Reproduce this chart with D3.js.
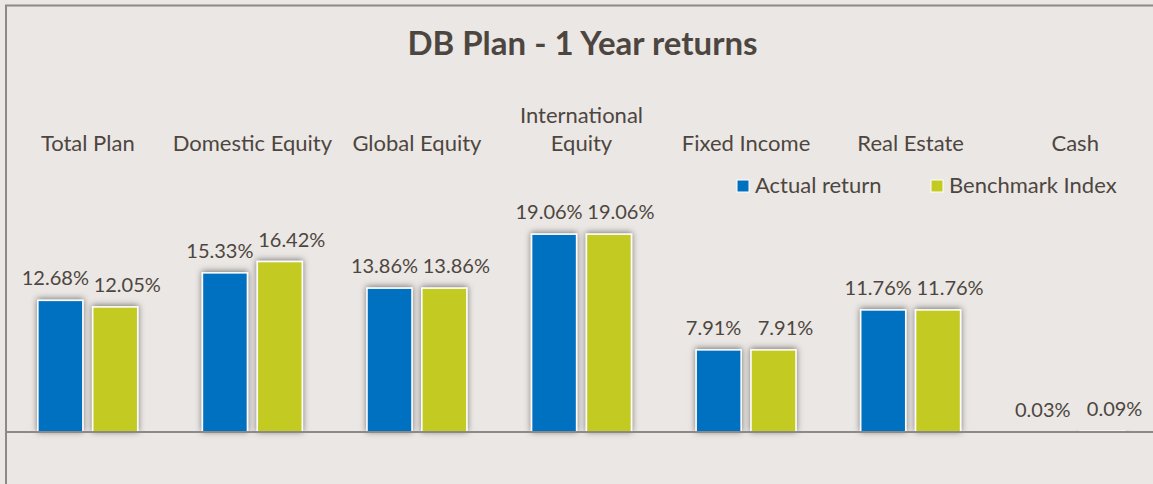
<!DOCTYPE html>
<html>
<head>
<meta charset="utf-8">
<script src="https://cdn.jsdelivr.net/npm/d3@7"></script>
<style>
  body { margin: 0; background: #ebe7e4; }
  svg { display: block; font-family: Lato, "Open Sans", sans-serif; }
</style>
</head>
<body>
<div id="chart"></div>
<script>
// data
const categories = ["Total Plan", "Domestic Equity", "Global Equity", "International Equity", "Fixed Income", "Real Estate", "Cash"];
const seriesNames = ["Actual return", "Benchmark Index"];
const actualReturn = [12.68, 15.33, 13.86, 19.06, 7.91, 11.76, 0.03];
const benchmarkIndex = [12.05, 16.42, 13.86, 19.06, 7.91, 11.76, 0.09];

const width = 1153;
const height = 484;
const colors = ["#0070c0", "#c3cb20"];
const textColor = "#4d4640";
const baseY = 432;

const rows = categories.map((c, i) => ({
    cat: c,
    values: [actualReturn[i], benchmarkIndex[i]]
}));

const svg = d3.select("#chart").append("svg")
    .attr("width", width)
    .attr("height", height);

const defs = svg.append("defs");
const shadow = defs.append("filter")
    .attr("id", "shadow")
    .attr("x", "-40%").attr("y", "-40%")
    .attr("width", "180%").attr("height", "180%");
shadow.append("feDropShadow")
    .attr("dx", 0).attr("dy", -1)
    .attr("stdDeviation", 3)
    .attr("flood-color", "#000")
    .attr("flood-opacity", 0.5);

// frame (top + left edges only visible)
svg.append("rect")
    .attr("width", width).attr("height", height)
    .attr("fill", "#ebe7e4");
svg.append("path")
    .attr("d", `M6,${height} V5.5 H${width}`)
    .attr("fill", "none")
    .attr("stroke", "#8c8a88")
    .attr("stroke-width", 2);

const x0 = d3.scaleBand()
    .domain(categories)
    .range([5.5, 1157.5])
    .padding(0);

const x1 = d3.scaleBand()
    .domain(d3.range(seriesNames.length))
    .range([0, x0.bandwidth()])
    .paddingInner(0.18)
    .paddingOuter(0.59);

// 10.38 px per percent
const y = d3.scaleLinear()
    .domain([0, 20])
    .range([baseY, baseY - 207.6]);

svg.append("text")
    .attr("x", 582.5)
    .attr("y", 55)
    .attr("text-anchor", "middle")
    .attr("font-size", 33)
    .attr("font-weight", "bold")
    .attr("fill", textColor)
    .text("DB Plan - 1 Year returns");

// category labels on top
const catLabel = svg.append("g")
    .selectAll("text")
    .data(categories)
    .enter().append("text")
    .attr("text-anchor", "middle")
    .attr("font-size", 22)
    .attr("fill", textColor)
    .attr("x", d => x0(d) + x0.bandwidth() / 2)
    .attr("y", 151);

catLabel.each(function(d) {
    const t = d3.select(this);
    if (d === "International Equity") {
        t.append("tspan").attr("x", t.attr("x")).attr("dy", -28).text("International");
        t.append("tspan").attr("x", t.attr("x")).attr("dy", 28).text("Equity");
    } else {
        t.text(d);
    }
});

const group = svg.append("g")
    .selectAll("g")
    .data(rows)
    .enter().append("g")
    .attr("transform", d => `translate(${x0(d.cat)},0)`);

group.selectAll("rect")
    .data(d => d.values)
    .enter().append("rect")
    .attr("x", (d, i) => x1(i))
    .attr("y", d => y(d))
    .attr("width", x1.bandwidth())
    .attr("height", d => y(0) - y(d))
    .attr("fill", (d, i) => colors[i])
    .attr("stroke", "#fff")
    .attr("stroke-width", 1.5)
    .attr("filter", "url(#shadow)");

const labelShift = [-5, 12];
group.selectAll("text")
    .data(d => d.values)
    .enter().append("text")
    .attr("x", (d, i) => x1(i) + x1.bandwidth() / 2 + labelShift[i])
    .attr("y", d => y(d) - 15)
    .attr("text-anchor", "middle")
    .attr("font-size", 20)
    .attr("fill", textColor)
    .text(d => d3.format(".2f")(d) + "%");

// baseline
svg.append("line")
    .attr("x1", 6).attr("x2", width)
    .attr("y1", y(0)).attr("y2", y(0))
    .attr("stroke", "#8c8a88")
    .attr("stroke-width", 2);

// legend
const legend = svg.append("g")
    .selectAll("g")
    .data(seriesNames)
    .enter().append("g")
    .attr("transform", (d, i) => `translate(${[737, 931][i]},180)`);

legend.append("rect")
    .attr("width", 12).attr("height", 12)
    .attr("fill", (d, i) => colors[i])
    .attr("stroke", "#fff")
    .attr("stroke-width", 1);

legend.append("text")
    .attr("x", 18)
    .attr("y", 13)
    .attr("font-size", 22)
    .attr("fill", textColor)
    .text(d => d);
</script>
</body>
</html>
